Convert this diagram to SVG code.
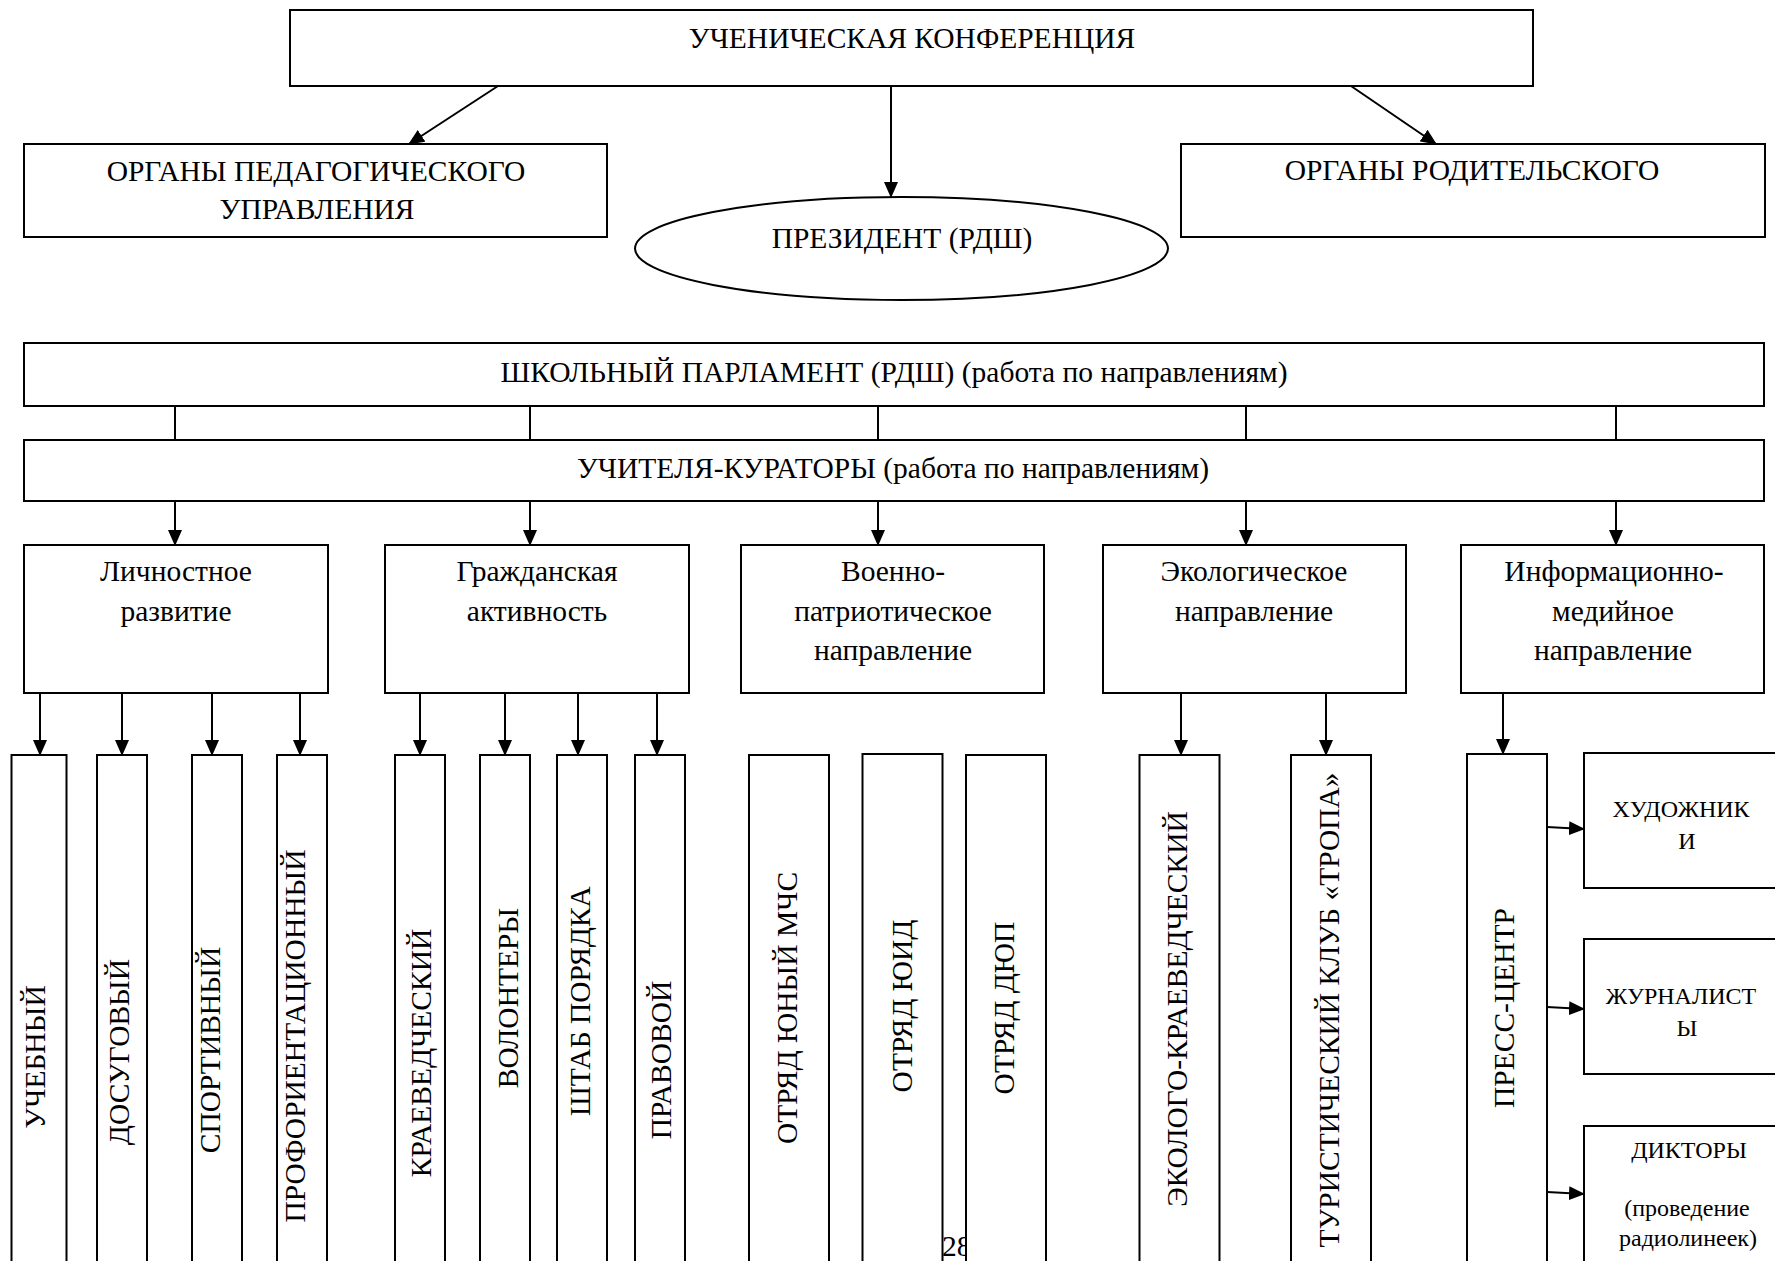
<svg xmlns="http://www.w3.org/2000/svg" width="1775" height="1261" viewBox="0 0 1775 1261">
<defs>
<marker id="ah" markerWidth="16" markerHeight="14" refX="15" refY="7" orient="auto" markerUnits="userSpaceOnUse"><path d="M0,0 L16,7 L0,14 z" fill="#000"/></marker>
<style>
.box{fill:#fff;stroke:#000;stroke-width:2}
.t{font-family:"Liberation Serif","Times New Roman",serif;font-size:29.5px;fill:#000;text-anchor:middle}
.s{font-size:24px}
.ln{stroke:#000;stroke-width:2;fill:none}
.ar{marker-end:url(#ah)}
</style>
</defs>
<rect width="1775" height="1261" fill="#fff"/>
<text id="page-number" class="t" x="942" y="1256" style="text-anchor:start">28</text>
<g id="connectors">
<path class="ln ar" d="M498,86 L409,144"/>
<path class="ln ar" d="M891,86 L891,197"/>
<path class="ln ar" d="M1351,86 L1436,144"/>
<path class="ln" d="M175,406 V440 M530,406 V440 M878,406 V440 M1246,406 V440 M1616,406 V440"/>
<path class="ln ar" d="M175,501 V545"/>
<path class="ln ar" d="M530,501 V545"/>
<path class="ln ar" d="M878,501 V545"/>
<path class="ln ar" d="M1246,501 V545"/>
<path class="ln ar" d="M1616,501 V545"/>
<path class="ln ar" d="M40,693 V755"/>
<path class="ln ar" d="M122,693 V755"/>
<path class="ln ar" d="M212,693 V755"/>
<path class="ln ar" d="M300,693 V755"/>
<path class="ln ar" d="M420,693 V755"/>
<path class="ln ar" d="M505,693 V755"/>
<path class="ln ar" d="M578,693 V755"/>
<path class="ln ar" d="M657,693 V755"/>
<path class="ln ar" d="M1181,693 V755"/>
<path class="ln ar" d="M1326,693 V755"/>
<path class="ln ar" d="M1503,693 V754"/>
<path class="ln ar" d="M1547,827 L1584,829"/>
<path class="ln ar" d="M1547,1007 L1584,1009"/>
<path class="ln ar" d="M1547,1192 L1584,1194"/>
</g>
<g id="conference"><rect class="box" x="290" y="10" width="1243" height="76"/><text class="t" x="912" y="48">УЧЕНИЧЕСКАЯ КОНФЕРЕНЦИЯ</text></g>
<g id="ped"><rect class="box" x="24" y="144" width="583" height="93"/><text class="t" x="316" y="181">ОРГАНЫ ПЕДАГОГИЧЕСКОГО</text><text class="t" x="317" y="219">УПРАВЛЕНИЯ</text></g>
<g id="rod"><rect class="box" x="1181" y="144" width="584" height="93"/><text class="t" x="1472" y="180">ОРГАНЫ РОДИТЕЛЬСКОГО</text></g>
<g id="president"><ellipse class="box" cx="901.5" cy="248.5" rx="266.5" ry="51.5"/><text class="t" x="902" y="248">ПРЕЗИДЕНТ (РДШ)</text></g>
<g id="parliament"><rect class="box" x="24" y="343" width="1740" height="63"/><text class="t" x="894" y="382">ШКОЛЬНЫЙ ПАРЛАМЕНТ (РДШ) (работа по направлениям)</text></g>
<g id="curators"><rect class="box" x="24" y="440" width="1740" height="61"/><text class="t" x="893" y="478">УЧИТЕЛЯ-КУРАТОРЫ (работа по направлениям)</text></g>
<g id="dir-personal"><rect class="box" x="24" y="545" width="304" height="148"/><text class="t" x="176" y="581">Личностное</text><text class="t" x="176" y="621">развитие</text></g>
<g id="dir-civic"><rect class="box" x="385" y="545" width="304" height="148"/><text class="t" x="537" y="581">Гражданская</text><text class="t" x="537" y="621">активность</text></g>
<g id="dir-military"><rect class="box" x="741" y="545" width="303" height="148"/><text class="t" x="893" y="581">Военно-</text><text class="t" x="893" y="621">патриотическое</text><text class="t" x="893" y="660">направление</text></g>
<g id="dir-eco"><rect class="box" x="1103" y="545" width="303" height="148"/><text class="t" x="1254" y="581">Экологическое</text><text class="t" x="1254" y="621">направление</text></g>
<g id="dir-media"><rect class="box" x="1461" y="545" width="303" height="148"/><text class="t" x="1614" y="581">Информационно-</text><text class="t" x="1613" y="621">медийное</text><text class="t" x="1613" y="660">направление</text></g>
<g id="uchebny"><rect class="box" x="11.5" y="755" width="55" height="520"/><text class="t" transform="translate(45,1057) rotate(-90)">УЧЕБНЫЙ</text></g>
<g id="dosug"><rect class="box" x="97" y="755" width="50" height="520"/><text class="t" transform="translate(129,1052) rotate(-90)">ДОСУГОВЫЙ</text></g>
<g id="sport"><rect class="box" x="192" y="755" width="50" height="520"/><text class="t" transform="translate(220,1050) rotate(-90)">СПОРТИВНЫЙ</text></g>
<g id="prof"><rect class="box" x="277" y="755" width="50" height="520"/><text class="t" transform="translate(305,1036) rotate(-90)">ПРОФОРИЕНТАЦИОННЫЙ</text></g>
<g id="kraeved"><rect class="box" x="395" y="755" width="50" height="520"/><text class="t" transform="translate(431,1053) rotate(-90)">КРАЕВЕДЧЕСКИЙ</text></g>
<g id="volunteers"><rect class="box" x="480" y="755" width="50" height="520"/><text class="t" transform="translate(518,998) rotate(-90)">ВОЛОНТЕРЫ</text></g>
<g id="shtab"><rect class="box" x="557" y="755" width="50" height="520"/><text class="t" transform="translate(590,1001) rotate(-90)">ШТАБ ПОРЯДКА</text></g>
<g id="pravovoy"><rect class="box" x="635" y="755" width="50" height="520"/><text class="t" transform="translate(671,1060) rotate(-90)">ПРАВОВОЙ</text></g>
<g id="mchs"><rect class="box" x="749" y="755" width="80" height="520"/><text class="t" transform="translate(797,1008) rotate(-90)">ОТРЯД ЮНЫЙ МЧС</text></g>
<g id="yuid"><rect class="box" x="862.5" y="754" width="80" height="521"/><text class="t" transform="translate(912,1006) rotate(-90)">ОТРЯД ЮИД</text></g>
<g id="dyup"><rect class="box" x="966" y="755" width="80" height="520"/><text class="t" transform="translate(1014,1008) rotate(-90)">ОТРЯД ДЮП</text></g>
<g id="eco-kraeved"><rect class="box" x="1139.5" y="755" width="80" height="520"/><text class="t" transform="translate(1187,1009) rotate(-90)">ЭКОЛОГО-КРАЕВЕДЧЕСКИЙ</text></g>
<g id="tropa"><rect class="box" x="1291" y="755" width="80" height="520"/><text class="t" transform="translate(1339,1010) rotate(-90)">ТУРИСТИЧЕСКИЙ КЛУБ «ТРОПА»</text></g>
<g id="press"><rect class="box" x="1467" y="754" width="80" height="521"/><text class="t" transform="translate(1514,1008) rotate(-90)">ПРЕСС-ЦЕНТР</text></g>
<g id="artists"><rect class="box" x="1584" y="753" width="206" height="135"/><text class="t s" x="1681" y="817">ХУДОЖНИК</text><text class="t s" x="1687" y="849">И</text></g>
<g id="journalists"><rect class="box" x="1584" y="939" width="206" height="135"/><text class="t s" x="1681" y="1004">ЖУРНАЛИСТ</text><text class="t s" x="1687" y="1036">Ы</text></g>
<g id="announcers"><rect class="box" x="1584" y="1126" width="206" height="160"/><text class="t s" x="1689" y="1158">ДИКТОРЫ</text><text class="t s" x="1687" y="1216">(проведение</text><text class="t s" x="1688" y="1246">радиолинеек)</text></g>
</svg>
